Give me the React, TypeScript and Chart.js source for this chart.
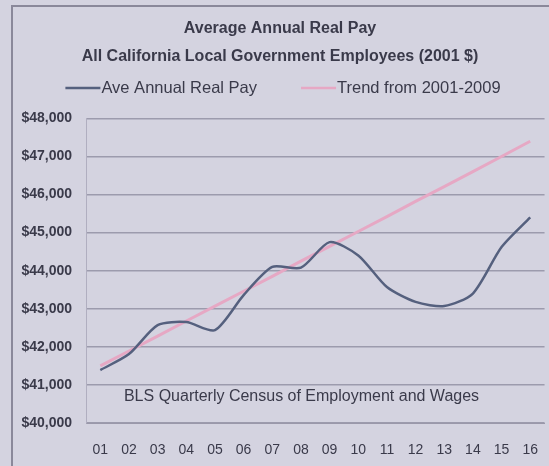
import React, { useEffect, useRef } from "react";
import { Chart, registerables } from "chart.js";

Chart.register(...registerables);

const years = ["01", "02", "03", "04", "05", "06", "07", "08", "09", "10", "11", "12", "13", "14", "15", "16"];
const avePay = [41390, 41810, 42570, 42650, 42440, 43360, 44100, 44080, 44750, 44400, 43570, 43180, 43070, 43400, 44620, 45400];
const trend = [41500, 41890, 42280, 42680, 43070, 43460, 43850, 44250, 44640, 45030, 45420, 45820, 46210, 46600, 47000, 47400];
const titleText = "Average Annual Real Pay";
const subtitleText = "All California Local Government Employees (2001 $)";
const sourceText = "BLS Quarterly Census of Employment and Wages";

const BG = "#d4d3e0";
const TEXT = "#3a3a4a";
const FONT = "'Liberation Sans', Arial, sans-serif";

const sourcePlugin = {
  id: "sourceText",
  afterDatasetsDraw(chart: any) {
    const { ctx, chartArea } = chart;
    ctx.save();
    ctx.font = "16px " + FONT;
    ctx.fillStyle = TEXT;
    ctx.textAlign = "center";
    ctx.textBaseline = "middle";
    ctx.fillText(sourceText, chartArea.left + (chartArea.right - chartArea.left) * 0.47, chartArea.bottom - 26);
    ctx.restore();
  },
};

// Legend drawn by hand so that line length and item spacing match the original
const legendPlugin = {
  id: "customLegend",
  afterDraw(chart: any) {
    const { ctx } = chart;
    const ds = chart.data.datasets;
    const lineW = 35;
    const gapText = 1;
    const gapItem = 44;
    ctx.save();
    ctx.font = "16.5px " + FONT;
    ctx.textBaseline = "middle";
    const widths = ds.map((d: any) => lineW + gapText + ctx.measureText(d.label).width);
    const total = widths.reduce((a: number, b: number) => a + b, 0) + gapItem * (ds.length - 1);
    let x = 283 - total / 2;
    const y = 88;
    ds.forEach((d: any, i: number) => {
      ctx.strokeStyle = d.borderColor;
      ctx.lineWidth = 2.5;
      ctx.beginPath();
      ctx.moveTo(x, y);
      ctx.lineTo(x + lineW, y);
      ctx.stroke();
      ctx.fillStyle = TEXT;
      ctx.textAlign = "left";
      ctx.fillText(d.label, x + lineW + gapText, y);
      x += widths[i] + gapItem;
    });
    ctx.restore();
  },
};

const bgPlugin = {
  id: "bgFrame",
  beforeDraw(chart: any) {
    const { ctx, width, height } = chart;
    ctx.save();
    ctx.fillStyle = BG;
    ctx.fillRect(0, 0, width, height);
    ctx.strokeStyle = "#8a889a";
    ctx.lineWidth = 2;
    ctx.beginPath();
    ctx.moveTo(12, height);
    ctx.lineTo(12, 6);
    ctx.lineTo(width, 6);
    ctx.stroke();
    ctx.restore();
  },
};

export default function App() {
  const ref = useRef<HTMLCanvasElement>(null);
  useEffect(() => {
    document.body.style.margin = "0";
    const chart = new Chart(ref.current!, {
      type: "line",
      data: {
        labels: years,
        datasets: [
          {
            label: "Ave Annual Real Pay",
            data: avePay,
            borderColor: "#55607e",
            backgroundColor: "#55607e",
            borderWidth: 2.5,
            pointRadius: 0,
            tension: 0.25,
          },
          {
            label: "Trend from 2001-2009",
            data: trend,
            borderColor: "#e6a8c4",
            backgroundColor: "#e6a8c4",
            borderWidth: 3,
            pointRadius: 0,
            tension: 0,
          },
        ],
      },
      options: {
        animation: false,
        responsive: false,
        layout: { padding: { top: 19, right: -1, left: 10, bottom: 0 } },
        plugins: {
          title: {
            display: true,
            text: titleText,
            color: TEXT,
            font: { size: 16, weight: "bold", family: FONT },
            padding: { top: 0, bottom: 9 },
          },
          subtitle: {
            display: true,
            text: subtitleText,
            color: TEXT,
            font: { size: 16, weight: "bold", family: FONT },
            padding: { top: 0, bottom: 52 },
          },
          legend: { display: false },
          tooltip: { enabled: false },
        },
        scales: {
          x: {
            offset: true,
            grid: { display: false },
            border: { display: true, color: "#9a98aa", width: 1 },
            afterFit: (scale: any) => {
              scale.height = 43;
            },
            ticks: {
              color: TEXT,
              padding: 11,
              maxRotation: 0,
              font: { size: 14, family: FONT },
            },
          },
          y: {
            min: 40000,
            max: 48000,
            afterFit: (scale: any) => {
              scale.width = 76;
            },
            ticks: {
              stepSize: 1000,
              color: TEXT,
              padding: 14,
              font: { size: 14, weight: "bold", family: FONT },
              callback: (v: any) => "$" + Number(v).toLocaleString("en-US"),
            },
            grid: { color: "#9c9bad", lineWidth: 1.5, drawTicks: false },
            border: { display: true, color: "#b0aec0", width: 1 },
          },
        },
      },
      plugins: [bgPlugin, sourcePlugin, legendPlugin],
    });
    return () => chart.destroy();
  }, []);
  return (
    <div style={{ width: 549, height: 466 }}>
      <canvas ref={ref} width={549} height={466} style={{ display: "block", width: 549, height: 466 }} />
    </div>
  );
}
